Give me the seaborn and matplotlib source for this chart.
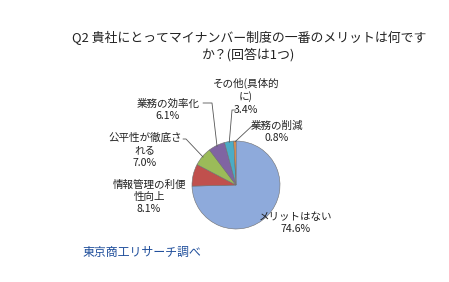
import numpy as np
import matplotlib
matplotlib.use("Agg")
import matplotlib.pyplot as plt
import seaborn as sns

title = "Q2 貴社にとってマイナンバー制度の一番のメリットは何です\nか？(回答は1つ)"
categories = ["メリットはない", "情報管理の利便\n性向上", "公平性が徹底さ\nれる", "業務の効率化", "その他(具体的\nに)", "業務の削減"]
values = [74.6, 8.1, 7.0, 6.1, 3.4, 0.8]
pct_labels = ["74.6%", "8.1%", "7.0%", "6.1%", "3.4%", "0.8%"]
colors = ["#8EAADB", "#C0504D", "#9BBB59", "#8064A2", "#4BACC6", "#F79646"]
source = "東京商工リサーチ調べ"

sns.set_theme(style="white")
plt.rcParams['font.family'] = ['Noto Sans CJK JP', 'DejaVu Sans']

W, H = 449, 282
fig = plt.figure(figsize=(W / 100, H / 100), dpi=100)
fig.patch.set_facecolor("white")

def fx(px):
    return px / W

def fy(py):
    return 1 - py / H

cx, cy, r = 236, 185, 44
ax = fig.add_axes([fx(cx - r), fy(cy + r), 2 * r / W, 2 * r / H])
wedges, _ = ax.pie(values, colors=colors, startangle=90, counterclock=False,
                   wedgeprops=dict(edgecolor="#6f6f6f", linewidth=0.4))
ax.set_xlim(-1, 1)
ax.set_ylim(-1, 1)
ax.set_aspect("equal")
ax.axis("off")

fig.text(fx(249), fy(46), title, ha="center", va="center", fontsize=9.3,
         color="#222222", linespacing=1.3)

# label positions (pixel coords of text center) and leader line end points
label_pos = {
    0: (296, 223, None),
    1: (149, 197, None),
    2: (145, 150, (186, 139)),
    3: (168, 110, (203, 103)),
    4: (246, 96, (232, 110)),
    5: (277, 132, (253, 125)),
}
fs = 7.6
for i, (lx, ly, lend) in label_pos.items():
    txt = categories[i] + "\n" + pct_labels[i]
    fig.text(fx(lx), fy(ly), txt, ha="center", va="center", fontsize=fs,
             color="#222222", linespacing=1.3)
    if lend is not None:
        w = wedges[i]
        ang = np.deg2rad((w.theta1 + w.theta2) / 2)
        px = cx + r * 0.98 * np.cos(ang)
        py = cy - r * 0.98 * np.sin(ang)
        ex, ey = lend
        if i == 3:
            xs = [ex, ex + 9, px]
            ys = [ey, ey, py]
        elif i == 2:
            xs = [ex - 3, ex, px]
            ys = [ey, ey, py]
        elif i == 4:
            xs = [ex + 4, ex, px]
            ys = [ey, ey, py]
        else:
            xs = [ex + 2, ex, px]
            ys = [ey, ey, py]
        fig.add_artist(plt.Line2D([fx(v) for v in xs], [fy(v) for v in ys],
                                  transform=fig.transFigure, color="#555555",
                                  linewidth=0.6))

fig.text(fx(82), fy(252), source, ha="left", va="center", fontsize=8.6,
         color="#1F4E9B")

fig.savefig("out.png", dpi=100, facecolor="white")
